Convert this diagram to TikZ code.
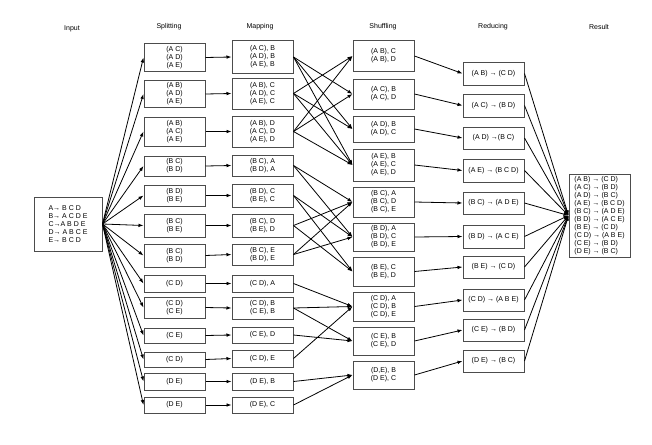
\documentclass[tikz,border=0pt]{standalone}
\usepackage{fontspec}
\setmainfont{Liberation Sans}
\usetikzlibrary{arrows.meta}
\begin{document}
\begin{tikzpicture}[x=1pt,y=-1pt,
  mrbox/.style={draw=black!70,line width=1pt,minimum width=61pt,inner sep=0pt,align=center,font=\fontsize{7}{8}\selectfont},
  coltitle/.style={font=\fontsize{7}{8}\selectfont},
  flow/.style={-{Latex[length=5pt,width=3.6pt]},line width=.8pt}]
\useasboundingbox (0,0) rectangle (652,444);
\node[coltitle] (tin) at (72,29) {Input};
\node[coltitle] (tsp) at (169,27) {Splitting};
\node[coltitle] (tmp) at (260,27) {Mapping};
\node[coltitle] (tsh) at (383,27) {Shuffling};
\node[coltitle] (trd) at (493,27) {Reducing};
\node[coltitle] (tres) at (599,27) {Result};
\node[mrbox,minimum width=68pt,minimum height=54pt,align=left] (in) at (68,224) {A→ B C D\\B→ A C D E\\C→A B D E\\D→ A B C E\\E→ B C D};
\node[mrbox,minimum height=28pt] (sp1) at (174.5,57.5) {(A C)\\(A D)\\(A E)};
\node[mrbox,minimum height=27pt] (sp2) at (174.5,94) {(A B)\\(A D)\\(A E)};
\node[mrbox,minimum height=29pt] (sp3) at (174.5,131.5) {(A B)\\(A C)\\(A E)};
\node[mrbox,minimum height=20pt] (sp4) at (174.5,166) {(B C)\\(B D)};
\node[mrbox,minimum height=21pt] (sp5) at (174.5,195.5) {(B D)\\(B E)};
\node[mrbox,minimum height=23pt] (sp6) at (174.5,225.5) {(B C)\\(B E)};
\node[mrbox,minimum height=23pt] (sp7) at (174.5,255.5) {(B C)\\(B D)};
\node[mrbox,minimum height=17pt] (sp8) at (174.5,283.5) {(C D)};
\node[mrbox,minimum height=21pt] (sp9) at (174.5,307.5) {(C D)\\(C E)};
\node[mrbox,minimum height=15pt] (sp10) at (174.5,335.5) {(C E)};
\node[mrbox,minimum height=15pt] (sp11) at (174.5,359.5) {(C D)};
\node[mrbox,minimum height=17pt] (sp12) at (174.5,381.5) {(D E)};
\node[mrbox,minimum height=16pt] (sp13) at (174.5,405) {(D E)};
\node[mrbox,minimum height=32pt] (mp1) at (262.5,57) {(A C), B\\(A D), B\\(A E), B};
\node[mrbox,minimum height=31pt] (mp2) at (262.5,93.5) {(A B), C\\(A D), C\\(A E), C};
\node[mrbox,minimum height=31pt] (mp3) at (262.5,131.5) {(A B), D\\(A C), D\\(A E), D};
\node[mrbox,minimum height=21pt] (mp4) at (262.5,165.5) {(B C), A\\(B D), A};
\node[mrbox,minimum height=23pt] (mp5) at (262.5,195.5) {(B D), C\\(B E), C};
\node[mrbox,minimum height=23pt] (mp6) at (262.5,225.5) {(B C), D\\(B E), D};
\node[mrbox,minimum height=21pt] (mp7) at (262.5,254.5) {(B C), E\\(B D), E};
\node[mrbox,minimum height=17pt] (mp8) at (262.5,283.5) {(C D), A};
\node[mrbox,minimum height=22pt] (mp9) at (262.5,308) {(C D), B\\(C E), B};
\node[mrbox,minimum height=16pt] (mp10) at (262.5,335) {(C E), D};
\node[mrbox,minimum height=17pt] (mp11) at (262.5,358.5) {(C D), E};
\node[mrbox,minimum height=17pt] (mp12) at (262.5,381.5) {(D E), B};
\node[mrbox,minimum height=16pt] (mp13) at (262.5,405) {(D E), C};
\node[mrbox,minimum height=30pt] (sh1) at (383.5,56) {(A B), C\\(A B), D};
\node[mrbox,minimum height=30pt] (sh2) at (383.5,94) {(A C), B\\(A C), D};
\node[mrbox,minimum height=26pt] (sh3) at (383.5,129) {(A D), B\\(A D), C};
\node[mrbox,minimum height=32pt] (sh4) at (383.5,165) {(A E), B\\(A E), C\\(A E), D};
\node[mrbox,minimum height=30pt] (sh5) at (383.5,202) {(B C), A\\(B C), D\\(B C), E};
\node[mrbox,minimum height=28pt] (sh6) at (383.5,237) {(B D), A\\(B D), C\\(B D), E};
\node[mrbox,minimum height=29pt] (sh7) at (383.5,271.5) {(B E), C\\(B E), D};
\node[mrbox,minimum height=29pt] (sh8) at (383.5,306.5) {(C D), A\\(C D), B\\(C D), E};
\node[mrbox,minimum height=28pt] (sh9) at (383.5,341) {(C E), B\\(C E), D};
\node[mrbox,minimum height=28pt] (sh10) at (383.5,375) {(D,E), B\\(D E), C};
\node[mrbox,minimum height=23pt] (rd1) at (493.5,73.5) {(A B) → (C D)};
\node[mrbox,minimum height=23pt] (rd2) at (493.5,105.5) {(A C) → (B D)};
\node[mrbox,minimum height=22pt] (rd3) at (493.5,138) {(A D) →(B C)};
\node[mrbox,minimum height=23pt] (rd4) at (493.5,170.5) {(A E) → (B C D)};
\node[mrbox,minimum height=22pt] (rd5) at (493.5,203) {(B C) → (A D E)};
\node[mrbox,minimum height=23pt] (rd6) at (493.5,236.5) {(B D) → (A C E)};
\node[mrbox,minimum height=22pt] (rd7) at (493.5,267) {(B E) → (C D)};
\node[mrbox,minimum height=22pt] (rd8) at (493.5,300) {(C D) → (A B E)};
\node[mrbox,minimum height=22pt] (rd9) at (493.5,330) {(C E) → (B D)};
\node[mrbox,minimum height=22pt] (rd10) at (493.5,361) {(D E) → (B C)};
\node[mrbox,minimum height=83pt,align=left] (res) at (599.5,215.5) {(A B) → (C D)\\(A C) → (B D)\\(A D) → (B C)\\(A E) → (B C D)\\(B C) → (A D E)\\(B D) → (A C E)\\(B E) → (C D)\\(C D) → (A B E)\\(C E) → (B D)\\(D E) → (B C)};
% input to splitting, splitting to mapping
\foreach \i in {1,...,13} {
  \draw[flow] (in.east) -- (sp\i.west);
  \draw[flow] (sp\i.east) -- (mp\i.west);
}
% mapping to shuffling
\foreach \m/\s in {1/2,1/3,1/4,2/1,2/3,2/4,3/1,3/2,3/4,4/5,4/6,5/6,5/7,6/5,6/7,7/5,7/6,8/8,9/8,9/9,10/9,11/8,12/10,13/10}
  \draw[flow] (mp\m.east) -- (sh\s.west);
% shuffling to reducing, reducing to result
\foreach \i in {1,...,10} {
  \draw[flow] (sh\i.east) -- (rd\i.west);
  \draw[flow] (rd\i.east) -- (res.west);
}
\end{tikzpicture}
\end{document}
